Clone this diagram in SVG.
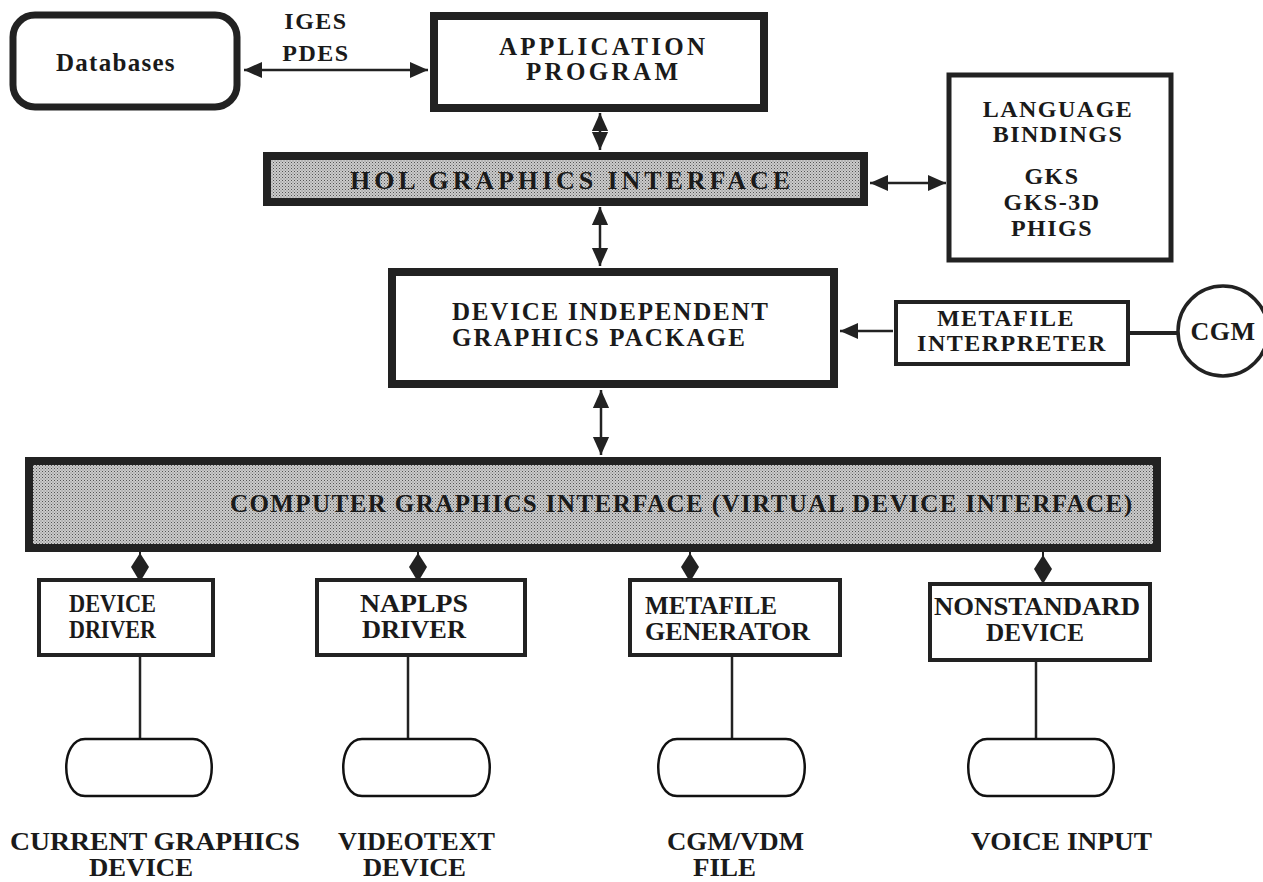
<svg xmlns="http://www.w3.org/2000/svg" width="1263" height="882" viewBox="0 0 1263 882">
<defs>
<pattern id="dots" width="3" height="3" patternUnits="userSpaceOnUse">
<rect width="3" height="3" fill="#cbcbcb"/>
<rect x="0" y="0" width="1" height="1" fill="#555"/>
<rect x="1.5" y="1.5" width="1" height="1" fill="#777"/>
</pattern>
<marker id="ahb" viewBox="0 0 10 10" refX="10" refY="5" markerWidth="18" markerHeight="18" markerUnits="userSpaceOnUse" orient="auto-start-reverse">
<path d="M0,0.5 L10,5 L0,9.5 Z" fill="#222"/>
</marker>
<style>
.t{font-family:"Liberation Serif","Times New Roman",serif;font-weight:bold;font-size:24px;fill:#1a1a1a;text-anchor:middle;letter-spacing:1.5px}
.b{font-size:25px;letter-spacing:0}
.c{font-size:25px;letter-spacing:0}
.s{text-anchor:start}
.box{fill:#fff;stroke:#222}
.thick{stroke-width:8}
.med{stroke-width:4}
.gray{fill:url(#dots);stroke:#222;stroke-width:8}
.ln{stroke:#222;stroke-width:2.5;fill:none}
.ln2{stroke:#222;stroke-width:2;fill:none}
.dev{fill:#fff;stroke:#111;stroke-width:2.5}
.dia{fill:#222}
</style>
</defs>

<g id="connectors">
<line class="ln" x1="244" y1="70" x2="428" y2="70" marker-start="url(#ahb)" marker-end="url(#ahb)"/>
<line class="ln" x1="600" y1="113" x2="600" y2="150" marker-start="url(#ahb)" marker-end="url(#ahb)"/>
<line class="ln" x1="600" y1="207" x2="600" y2="266" marker-start="url(#ahb)" marker-end="url(#ahb)"/>
<line class="ln" x1="601" y1="390" x2="601" y2="455" marker-start="url(#ahb)" marker-end="url(#ahb)"/>
<line class="ln" x1="870" y1="183" x2="946" y2="183" marker-start="url(#ahb)" marker-end="url(#ahb)"/>
<line class="ln" x1="893" y1="331" x2="840" y2="331" marker-end="url(#ahb)"/>
<line x1="1130" y1="333" x2="1177" y2="333" stroke="#222" stroke-width="4"/>
<line class="ln2" x1="140" y1="550" x2="140" y2="580"/>
<path class="dia" d="M140,553 L149,567 L140,582 L131,567 Z"/>
<line class="ln2" x1="418" y1="550" x2="418" y2="580"/>
<path class="dia" d="M418,553 L427,567 L418,582 L409,567 Z"/>
<line class="ln2" x1="690" y1="550" x2="690" y2="580"/>
<path class="dia" d="M690,553 L699,567 L690,582 L681,567 Z"/>
<line class="ln2" x1="1043" y1="550" x2="1043" y2="584"/>
<path class="dia" d="M1043,555 L1052,569 L1043,584 L1034,569 Z"/>
<line class="ln" x1="140" y1="657" x2="140" y2="739"/>
<line class="ln" x1="408" y1="657" x2="408" y2="739"/>
<line class="ln" x1="732" y1="657" x2="732" y2="739"/>
<line class="ln" x1="1036" y1="662" x2="1036" y2="739"/>
</g>

<g id="databases">
<rect class="box" x="13" y="15" width="224" height="92" rx="22" stroke-width="7"/>
<text class="t" x="116" y="71" style="font-size:25px" textLength="120">Databases</text>
</g>
<g id="iges-pdes">
<text class="t" x="316" y="29">IGES</text>
<text class="t" x="316" y="61">PDES</text>
</g>
<g id="application">
<rect class="box thick" x="434" y="16" width="330" height="92"/>
<text class="t b" x="602" y="55" textLength="206">APPLICATION</text>
<text class="t b" x="602" y="80" textLength="152">PROGRAM</text>
</g>
<g id="hol">
<rect class="gray" x="267" y="156" width="597" height="46"/>
<text class="t b" x="570" y="189" style="font-size:26px" textLength="440">HOL GRAPHICS INTERFACE</text>
</g>
<g id="bindings">
<rect class="box" x="949" y="75" width="222" height="185" stroke-width="5"/>
<text class="t" x="1058" y="117">LANGUAGE</text>
<text class="t" x="1058" y="142">BINDINGS</text>
<text class="t" x="1052" y="184">GKS</text>
<text class="t" x="1052" y="210">GKS-3D</text>
<text class="t" x="1052" y="236">PHIGS</text>
</g>
<g id="digp">
<rect class="box thick" x="392" y="272" width="442" height="112"/>
<text class="t b s" x="452" y="320" textLength="316">DEVICE INDEPENDENT</text>
<text class="t b s" x="452" y="346" textLength="293">GRAPHICS  PACKAGE</text>
</g>
<g id="interpreter">
<rect class="box med" x="896" y="302" width="232" height="62"/>
<text class="t" x="1006" y="326">METAFILE</text>
<text class="t" x="1012" y="351">INTERPRETER</text>
</g>
<g id="cgm">
<circle cx="1223" cy="331" r="45" fill="#fff" stroke="#222" stroke-width="3.5"/>
<text class="t" x="1223" y="340" style="font-size:26px;letter-spacing:0.5px">CGM</text>
</g>
<g id="cgi">
<rect class="gray" x="29" y="461" width="1128" height="87"/>
<text class="t b s" x="230" y="512" textLength="902">COMPUTER GRAPHICS INTERFACE (VIRTUAL DEVICE INTERFACE)</text>
</g>
<g id="device-driver">
<rect class="box med" x="39" y="580" width="174" height="75"/>
<text class="t c s" x="69" y="612" textLength="87" lengthAdjust="spacingAndGlyphs">DEVICE</text>
<text class="t c s" x="69" y="638" textLength="87" lengthAdjust="spacingAndGlyphs">DRIVER</text>
</g>
<g id="naplps-driver">
<rect class="box med" x="317" y="580" width="208" height="75"/>
<text class="t c s" x="360" y="612" textLength="108" lengthAdjust="spacingAndGlyphs">NAPLPS</text>
<text class="t c s" x="362" y="638" textLength="104" lengthAdjust="spacingAndGlyphs">DRIVER</text>
</g>
<g id="metafile-generator">
<rect class="box med" x="630" y="580" width="210" height="75"/>
<text class="t c s" x="645" y="614" textLength="132" lengthAdjust="spacingAndGlyphs">METAFILE</text>
<text class="t c s" x="645" y="640" textLength="165" lengthAdjust="spacingAndGlyphs">GENERATOR</text>
</g>
<g id="nonstandard-device">
<rect class="box med" x="930" y="584" width="220" height="76"/>
<text class="t c s" x="934" y="615" textLength="206" lengthAdjust="spacingAndGlyphs">NONSTANDARD</text>
<text class="t c s" x="986" y="641" textLength="98" lengthAdjust="spacingAndGlyphs">DEVICE</text>
</g>
<g id="dev1">
<path class="dev" d="M85,739 H193 C218,739 218,796 193,796 H85 C60,796 60,739 85,739 Z"/>
<text class="t c s" x="10" y="850" textLength="290" lengthAdjust="spacingAndGlyphs">CURRENT GRAPHICS</text>
<text class="t c s" x="89" y="876" textLength="104" lengthAdjust="spacingAndGlyphs">DEVICE</text>
</g>
<g id="dev2">
<path class="dev" d="M362,739 H471 C496,739 496,796 471,796 H362 C337,796 337,739 362,739 Z"/>
<text class="t c s" x="338" y="850" textLength="157" lengthAdjust="spacingAndGlyphs">VIDEOTEXT</text>
<text class="t c s" x="363" y="876" textLength="103" lengthAdjust="spacingAndGlyphs">DEVICE</text>
</g>
<g id="dev3">
<path class="dev" d="M677,739 H786 C811,739 811,796 786,796 H677 C652,796 652,739 677,739 Z"/>
<text class="t c s" x="667" y="850" textLength="137" lengthAdjust="spacingAndGlyphs">CGM/VDM</text>
<text class="t c s" x="693" y="876" textLength="63" lengthAdjust="spacingAndGlyphs">FILE</text>
</g>
<g id="dev4">
<path class="dev" d="M987,739 H1095 C1120,739 1120,796 1095,796 H987 C962,796 962,739 987,739 Z"/>
<text class="t c s" x="971" y="850" textLength="181" lengthAdjust="spacingAndGlyphs">VOICE INPUT</text>
</g>
</svg>
